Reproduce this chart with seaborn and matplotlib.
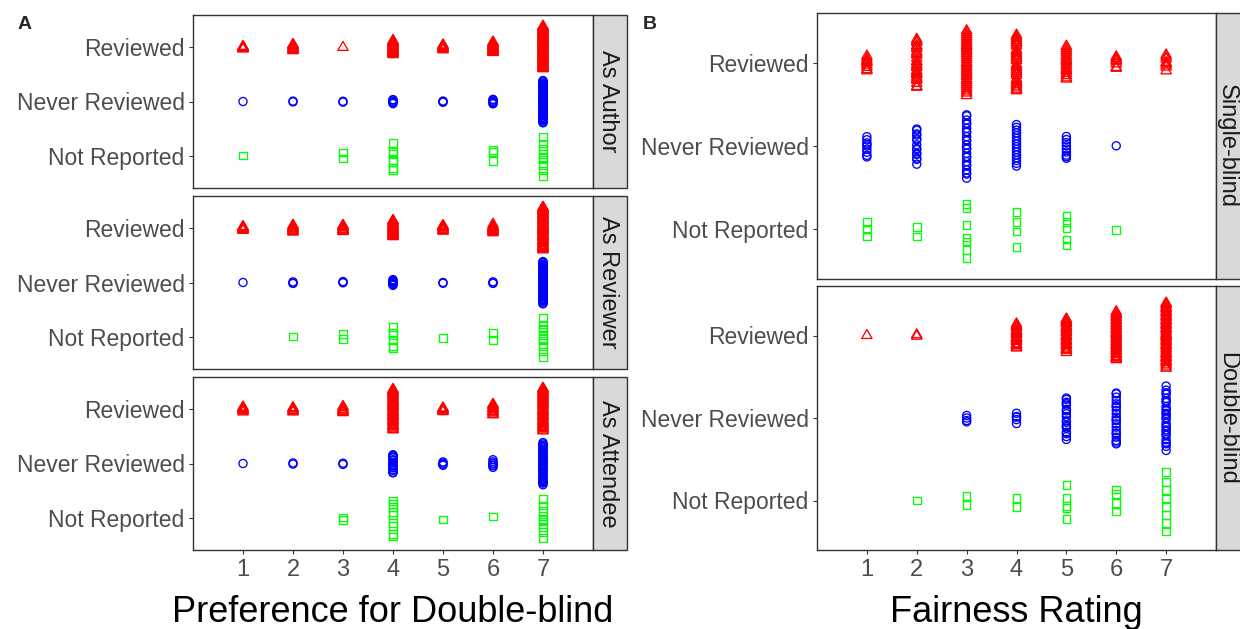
import numpy as np
import matplotlib
matplotlib.use("Agg")
import matplotlib.pyplot as plt
import seaborn as sns
from matplotlib.patches import Rectangle

# ---------------------------------------------------------------- data
ratings = [1, 2, 3, 4, 5, 6, 7]
groups = ["Reviewed", "Never Reviewed", "Not Reported"]
group_levels = [3, 2, 1]

# Panel A: preference for double-blind, counts of respondents per rating
author_reviewed = [6, 10, 1, 22, 8, 16, 64]
author_never = [1, 2, 2, 6, 3, 6, 53]
author_notrep = [1, 0, 2, 7, 0, 3, 9]

reviewer_reviewed = [7, 10, 10, 23, 9, 11, 59]
reviewer_never = [1, 3, 3, 8, 2, 3, 53]
reviewer_notrep = [0, 1, 2, 6, 1, 2, 10]

attendee_reviewed = [7, 6, 7, 44, 6, 12, 46]
attendee_never = [1, 2, 2, 18, 4, 7, 39]
attendee_notrep = [0, 0, 2, 9, 1, 1, 9]

# Panel B: fairness rating of each review system
single_reviewed = [9, 25, 33, 29, 18, 7, 8]
single_never = [9, 14, 24, 16, 9, 1, 0]
single_notrep = [3, 2, 7, 4, 5, 1, 0]

double_reviewed = [1, 2, 0, 19, 25, 35, 47]
double_never = [0, 0, 4, 5, 18, 21, 26]
double_notrep = [0, 1, 2, 2, 5, 4, 8]

facets_a = ["As Author", "As Reviewer", "As Attendee"]
facets_b = ["Single-blind", "Double-blind"]

panel_a = {
    "As Author": [author_reviewed, author_never, author_notrep],
    "As Reviewer": [reviewer_reviewed, reviewer_never, reviewer_notrep],
    "As Attendee": [attendee_reviewed, attendee_never, attendee_notrep],
}
panel_b = {
    "Single-blind": [single_reviewed, single_never, single_notrep],
    "Double-blind": [double_reviewed, double_never, double_notrep],
}

# ---------------------------------------------------------------- styling
colors = ["#FF0000", "#0000FF", "#00FF00"]
markers = [(3, 0, 0), "o", "s"]
sizes = [74, 34, 31]

sns.set_style("white")
plt.rcParams["font.family"] = ["Liberation Sans", "DejaVu Sans"]

W, H = 1240, 629
fig = plt.figure(figsize=(W / 100, H / 100), dpi=100)


def px_axes(x0, y0, x1, y1):
    return fig.add_axes([x0 / W, 1 - y1 / H, (x1 - x0) / W, (y1 - y0) / H])


def van_der_corput(n, base=2):
    out = np.empty(n)
    for i in range(1, n + 1):
        v, denom, k = 0.0, 1.0, i
        while k:
            k, r = divmod(k, base)
            denom *= base
            v += r / denom
        out[i - 1] = v
    return out


def bw_nrd0(x):
    hi = np.std(x, ddof=1)
    q75, q25 = np.percentile(x, [75, 25])
    lo = min(hi, (q75 - q25) / 1.34)
    if not lo:
        lo = hi or abs(x[0]) or 1.0
    return 0.9 * lo * len(x) ** -0.2


def quasirandom(values, width=0.4, adjust=0.5):
    """Quasirandom offsets (van der Corput) scaled by kernel density."""
    x = np.sort(np.asarray(values, dtype=float))
    bw = adjust * bw_nrd0(x)
    grid = np.linspace(x.min() - 3 * bw, x.max() + 3 * bw, 512)
    dens = np.exp(-0.5 * ((grid[:, None] - x[None, :]) / bw) ** 2).sum(axis=1)
    dens /= dens.max()
    rel = np.interp(x, grid, dens)
    return x, (van_der_corput(len(x)) - 0.5) * 2 * width * rel


def draw_facet(ax, counts_list, show_x):
    for counts, level, col, mk, sz in zip(counts_list, group_levels, colors, markers, sizes):
        values = np.repeat(ratings, counts)
        xv, off = quasirandom(values)
        sns.scatterplot(x=xv, y=level + off, ax=ax, marker=mk, s=sz,
                        facecolor="none", edgecolor=col, linewidth=0.95,
                        legend=False, zorder=3)
    ax.set_xlim(0, 8)
    ax.set_ylim(0.4, 3.6)
    ax.set_yticks(group_levels)
    ax.set_yticklabels(groups)
    ax.set_xticks(ratings)
    ax.set_xlabel("")
    ax.set_ylabel("")
    ax.tick_params(axis="y", length=3, width=0.8, color="#333333",
                   labelcolor="#4D4D4D", labelsize=16.5, pad=3, left=True)
    if show_x:
        ax.set_xticklabels([str(r) for r in ratings])
        ax.tick_params(axis="x", length=3, width=0.8, color="#333333",
                       labelcolor="#4D4D4D", labelsize=17, pad=3.5, bottom=True)
    else:
        ax.tick_params(axis="x", bottom=False, labelbottom=False)
    for sp in ax.spines.values():
        sp.set_visible(True)
        sp.set_color("#333333")
        sp.set_linewidth(1.0)


def draw_strip(x0, y0, x1, y1, label, text_x=None):
    fig.patches.append(Rectangle((x0 / W, 1 - y1 / H), (x1 - x0) / W, (y1 - y0) / H,
                                 transform=fig.transFigure, facecolor="#D9D9D9",
                                 edgecolor="#333333", linewidth=1.0))
    tx = (x0 + x1) / 2 if text_x is None else text_x
    fig.text(tx / W, 1 - (y0 + y1) / 2 / H, label, rotation=-90,
             ha="center", va="center", fontsize=17, color="#1A1A1A")


# ---------------------------------------------------------------- panel A
rows_a = [(15, 188), (196, 369), (377, 550)]
for i, (facet, (y0, y1)) in enumerate(zip(facets_a, rows_a)):
    ax = px_axes(193, y0, 593, y1)
    draw_facet(ax, panel_a[facet], show_x=(i == len(facets_a) - 1))
    draw_strip(593, y0, 627, y1, facet, text_x=608)

# ---------------------------------------------------------------- panel B
rows_b = [(13, 279), (286, 550)]
for i, (facet, (y0, y1)) in enumerate(zip(facets_b, rows_b)):
    ax = px_axes(817, y0, 1216, y1)
    draw_facet(ax, panel_b[facet], show_x=(i == len(facets_b) - 1))
    draw_strip(1216, y0, 1252, y1, facet, text_x=1227)

# ---------------------------------------------------------------- titles
fig.text(393 / W, 1 - 622 / H, "Preference for Double-blind", fontsize=26,
         ha="center", va="baseline", color="black")
fig.text(1016 / W, 1 - 622 / H, "Fairness Rating", fontsize=26,
         ha="center", va="baseline", color="black")
fig.text(18 / W, 1 - 29 / H, "A", fontsize=14, fontweight="bold",
         ha="left", va="baseline")
fig.text(643 / W, 1 - 29 / H, "B", fontsize=14, fontweight="bold",
         ha="left", va="baseline")

fig.savefig("out.png", dpi=100)
